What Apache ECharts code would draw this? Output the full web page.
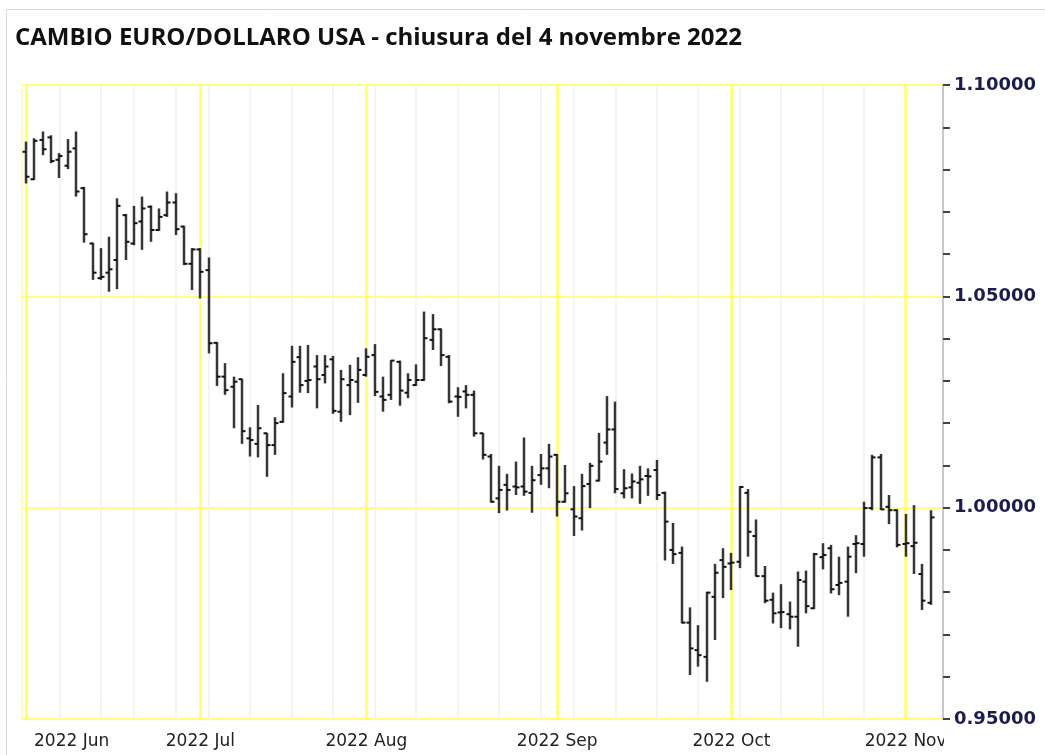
<!DOCTYPE html>
<html>
<head>
<meta charset="utf-8">
<script src="https://cdn.jsdelivr.net/npm/echarts@6/dist/echarts.min.js"></script>
<style>
html,body{margin:0;padding:0;background:#fff;}
#chart{width:1045px;height:755px;}
</style>
</head>
<body>
<div id="chart"></div>
<script>
const titleText = 'CAMBIO EURO/DOLLARO USA - chiusura del 4 novembre 2022';

const dates = [
'2022-06-01','2022-06-02','2022-06-03','2022-06-06','2022-06-07','2022-06-08','2022-06-09','2022-06-10','2022-06-13','2022-06-14','2022-06-15','2022-06-16','2022-06-17','2022-06-21','2022-06-22','2022-06-23','2022-06-24','2022-06-27','2022-06-28','2022-06-29','2022-06-30',
'2022-07-01','2022-07-05','2022-07-06','2022-07-07','2022-07-08','2022-07-11','2022-07-12','2022-07-13','2022-07-14','2022-07-15','2022-07-18','2022-07-19','2022-07-20','2022-07-21','2022-07-22','2022-07-25','2022-07-26','2022-07-27','2022-07-28','2022-07-29',
'2022-08-01','2022-08-02','2022-08-03','2022-08-04','2022-08-05','2022-08-08','2022-08-09','2022-08-10','2022-08-11','2022-08-12','2022-08-15','2022-08-16','2022-08-17','2022-08-18','2022-08-19','2022-08-22','2022-08-23','2022-08-24','2022-08-25','2022-08-26','2022-08-29','2022-08-30','2022-08-31',
'2022-09-01','2022-09-02','2022-09-06','2022-09-07','2022-09-08','2022-09-09','2022-09-12','2022-09-13','2022-09-14','2022-09-15','2022-09-16','2022-09-19','2022-09-20','2022-09-21','2022-09-22','2022-09-23','2022-09-26','2022-09-27','2022-09-28','2022-09-29','2022-09-30',
'2022-10-03','2022-10-04','2022-10-05','2022-10-06','2022-10-07','2022-10-10','2022-10-11','2022-10-12','2022-10-13','2022-10-14','2022-10-17','2022-10-18','2022-10-19','2022-10-20','2022-10-21','2022-10-24','2022-10-25','2022-10-26','2022-10-27','2022-10-28','2022-10-31',
'2022-11-01','2022-11-02','2022-11-03','2022-11-04'
];

const openP = [
1.0842,1.0777,1.0870,1.0876,1.0823,1.0809,1.0850,1.0756,1.0625,1.0543,1.0556,1.0586,1.0692,1.0625,1.0677,1.0712,1.0657,1.0692,1.0722,1.0665,1.0577,
1.0611,1.0562,1.0390,1.0310,1.0286,1.0304,1.0164,1.0151,1.0176,1.0148,1.0203,1.0263,1.0356,1.0300,1.0334,1.0314,1.0351,1.0227,1.0290,1.0298,
1.0314,1.0361,1.0263,1.0267,1.0345,1.0272,1.0290,1.0302,1.0397,1.0422,1.0357,1.0263,1.0275,1.0267,1.0176,1.0121,1.0022,1.0054,1.0050,1.0050,1.0035,1.0077,1.0093,
1.0125,1.0014,0.9996,0.9975,1.0056,1.0064,1.0154,1.0185,1.0034,1.0048,1.0059,1.0075,1.0089,1.0035,0.9900,0.9893,0.9728,0.9663,0.9647,0.9789,0.9876,
0.9868,0.9872,1.0035,0.9933,0.9838,0.9782,0.9752,0.9748,0.9742,0.9825,0.9762,0.9883,0.9904,0.9817,0.9825,0.9914,0.9914,0.9999,1.0119,1.0002,0.9994,
0.9914,0.9909,0.9843,0.9775
];
const highP = [
1.0866,1.0874,1.0890,1.0881,1.0839,1.0872,1.0890,1.0759,1.0627,1.0614,1.0641,1.0732,1.0695,1.0714,1.0736,1.0715,1.0708,1.0748,1.0744,1.0667,1.0614,
1.0614,1.0592,1.0392,1.0342,1.0310,1.0305,1.0190,1.0243,1.0177,1.0214,1.0318,1.0383,1.0383,1.0385,1.0361,1.0361,1.0359,1.0326,1.0338,1.0356,
1.0377,1.0387,1.0310,1.0349,1.0348,1.0318,1.0339,1.0464,1.0458,1.0424,1.0361,1.0285,1.0290,1.0277,1.0177,1.0127,1.0099,1.0080,1.0109,1.0166,1.0099,1.0127,1.0151,
1.0127,1.0101,1.0051,1.0080,1.0106,1.0177,1.0264,1.0251,1.0091,1.0081,1.0099,1.0093,1.0113,1.0038,0.9964,0.9908,0.9764,0.9722,0.9801,0.9867,0.9904,
0.9893,1.0051,1.0044,0.9972,0.9862,0.9799,0.9819,0.9778,0.9849,0.9851,0.9893,0.9916,0.9912,0.9884,0.9908,0.9935,1.0014,1.0125,1.0127,1.0030,0.9996,
0.9985,1.0006,0.9867,0.9994
];
const lowP = [
1.0767,1.0775,1.0834,1.0815,1.0780,1.0801,1.0736,1.0627,1.0539,1.0539,1.0511,1.0517,1.0586,1.0621,1.0610,1.0629,1.0655,1.0688,1.0645,1.0574,1.0515,
1.0495,1.0365,1.0288,1.0267,1.0188,1.0151,1.0121,1.0119,1.0073,1.0125,1.0201,1.0237,1.0272,1.0271,1.0235,1.0294,1.0222,1.0203,1.0219,1.0248,
1.0310,1.0264,1.0227,1.0255,1.0241,1.0259,1.0288,1.0300,1.0373,1.0335,1.0247,1.0215,1.0235,1.0168,1.0114,1.0012,0.9987,0.9993,1.0030,1.0028,0.9988,1.0054,1.0046,
0.9979,1.0012,0.9933,0.9946,0.9999,1.0062,1.0125,1.0034,1.0022,1.0022,1.0009,1.0028,1.0018,0.9875,0.9867,0.9726,0.9604,0.9624,0.9588,0.9687,0.9786,
0.9805,0.9857,0.9884,0.9837,0.9774,0.9726,0.9715,0.9712,0.9671,0.9750,0.9760,0.9854,0.9797,0.9793,0.9742,0.9845,0.9884,0.9994,0.9994,0.9961,0.9906,
0.9884,0.9843,0.9758,0.9770
];
const closeP = [
1.0783,1.0868,1.0848,1.0820,1.0832,1.0842,1.0748,1.0647,1.0556,1.0546,1.0564,1.0714,1.0629,1.0673,1.0708,1.0657,1.0688,1.0722,1.0659,1.0577,1.0611,
1.0558,1.0389,1.0310,1.0278,1.0298,1.0181,1.0160,1.0188,1.0148,1.0200,1.0271,1.0345,1.0290,1.0302,1.0304,1.0334,1.0229,1.0304,1.0302,1.0326,
1.0357,1.0274,1.0255,1.0348,1.0277,1.0302,1.0302,1.0401,1.0422,1.0361,1.0251,1.0262,1.0267,1.0176,1.0125,1.0014,1.0042,1.0042,1.0048,1.0038,1.0065,1.0093,1.0121,
1.0014,1.0034,0.9979,1.0051,1.0099,1.0109,1.0185,1.0044,1.0046,1.0062,1.0067,1.0074,1.0030,0.9967,0.9890,0.9728,0.9667,0.9651,0.9799,0.9846,0.9860,
0.9870,1.0049,0.9943,0.9838,0.9780,0.9750,0.9753,0.9742,0.9829,0.9767,0.9890,0.9888,0.9807,0.9822,0.9884,0.9916,0.9999,1.0119,0.9996,0.9994,0.9912,
0.9916,0.9917,0.9780,0.9977
];

const monthStarts = ['2022-06-01','2022-07-01','2022-08-01','2022-09-01','2022-10-03','2022-11-01'];
const monthLabels = ['2022 Jun','2022 Jul','2022 Aug','2022 Sep','2022 Oct','2022 Nov'];
const weekLines = ['2022-06-07','2022-06-14','2022-06-21','2022-06-28','2022-07-05','2022-07-12','2022-07-19','2022-07-26','2022-08-02','2022-08-09','2022-08-16','2022-08-23','2022-08-30','2022-09-06','2022-09-13','2022-09-20','2022-09-27','2022-10-04','2022-10-11','2022-10-18','2022-10-25','2022-11-01'];
const yMin = 0.95, yMax = 1.10, yStep = 0.05;

const chart = echarts.init(document.getElementById('chart'), null, {renderer: 'canvas'});

const ohlcData = dates.map((d, i) => [i, openP[i], closeP[i], lowP[i], highP[i]]);
const axisCats = dates.concat(['']);

function renderOHLC(params, api) {
  const i = api.value(0);
  const o = api.coord([i, api.value(1)]);
  const c = api.coord([i, api.value(2)]);
  const l = api.coord([i, api.value(3)]);
  const h = api.coord([i, api.value(4)]);
  const x = Math.round(o[0]);
  return {
    type: 'group',
    children: [
      {type: 'line', shape: {x1: x, y1: h[1], x2: x, y2: l[1]}, style: {stroke: '#353535', lineWidth: 2.5}},
      {type: 'line', shape: {x1: x - 3.5, y1: o[1], x2: x, y2: o[1]}, style: {stroke: '#111', lineWidth: 2}},
      {type: 'line', shape: {x1: x, y1: c[1], x2: x + 3.5, y2: c[1]}, style: {stroke: '#111', lineWidth: 2}}
    ]
  };
}

const option = {
  animation: false,
  backgroundColor: '#ffffff',
  title: {
    text: titleText,
    left: 10,
    top: 21,
    textStyle: {fontFamily: "'Open Sans', sans-serif", fontWeight: 'bold', fontSize: 24, color: '#111'}
  },
  graphic: [
    {type: 'rect', z: -1, shape: {x: 6.5, y: 9.5, width: 1100, height: 800}, style: {fill: 'none', stroke: '#d9d9d9', lineWidth: 1}},
    {type: 'rect', z: 100, shape: {x: 944, y: 727, width: 14, height: 26}, style: {fill: '#ffffff'}}
  ],
  grid: {left: 22, right: 102, top: 85, bottom: 36, show: true, borderColor: '#ffff80', borderWidth: 1, backgroundColor: 'transparent'},
  xAxis: {
    type: 'category',
    data: axisCats,
    boundaryGap: true,
    axisLine: {show: false},
    axisTick: {show: false},
    splitLine: {show: false},
    axisLabel: {
      interval: (idx, val) => monthStarts.indexOf(val) >= 0,
      formatter: (val) => {
        const k = monthStarts.indexOf(val);
        if (k < 0) return '';
        return k === 0 ? '{first|' + monthLabels[k] + '}' : monthLabels[k];
      },
      rich: {first: {padding: [0, 0, 0, 91], fontFamily: "'DejaVu Sans', sans-serif", fontSize: 17, color: '#222'}},
      margin: 14,
      fontFamily: "'DejaVu Sans', sans-serif",
      fontSize: 17,
      color: '#222',
      hideOverlap: false
    }
  },
  yAxis: {
    type: 'value',
    position: 'right',
    min: yMin,
    max: yMax,
    interval: yStep,
    axisLine: {show: true, lineStyle: {color: '#c8c8c8', width: 2}},
    axisTick: {show: true, length: 7, lineStyle: {color: '#444', width: 2}},
    minorTick: {show: true, splitNumber: 5, length: 7, lineStyle: {color: '#444', width: 2}},
    splitLine: {show: true, lineStyle: {color: '#ffff80', width: 2}},
    axisLabel: {
      margin: 11,
      formatter: (v) => v.toFixed(5),
      fontFamily: "'DejaVu Sans', sans-serif",
      fontWeight: 'bold',
      fontSize: 18,
      color: '#1c1c50'
    }
  },
  series: [
    {
      type: 'line',
      data: [],
      z: 1,
      silent: true,
      markLine: {
        silent: true,
        symbol: ['none', 'none'],
        label: {show: false},
        animation: false,
        data: weekLines.map(d => ({xAxis: d, lineStyle: {color: '#f3f0ea', width: 1.5, type: 'solid'}}))
          .concat(monthStarts.map(d => ({xAxis: d, lineStyle: {color: '#ffff66', width: 2.5, type: 'solid'}})))
      }
    },
    {
      type: 'custom',
      z: 5,
      renderItem: renderOHLC,
      encode: {x: 0, y: [1, 2, 3, 4]},
      data: ohlcData
    }
  ]
};
chart.setOption(option);
</script>
</body>
</html>
